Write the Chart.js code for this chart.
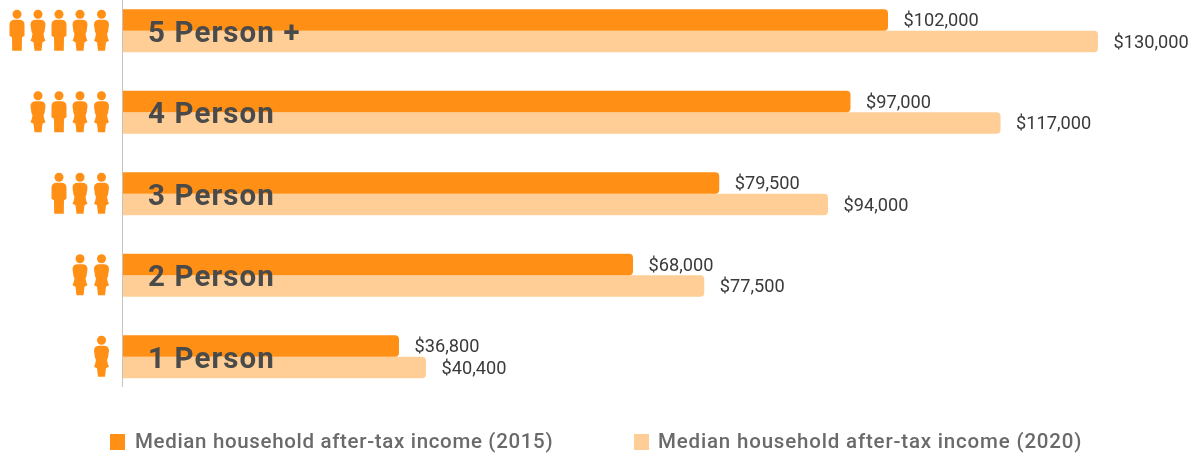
<!DOCTYPE html>
<html><head><meta charset="utf-8">
<style>html,body{margin:0;padding:0;background:#fff;overflow:hidden;width:1195px;height:457px}
#w{position:absolute;left:0;top:-10px;width:1195px;height:480px}</style>
<script src="https://cdn.jsdelivr.net/npm/chart.js@4"></script></head>
<body><div id="w"><canvas id="c"></canvas></div>
<script>
const categories=["5 Person +","4 Person","3 Person","2 Person","1 Person"];
const peopleCounts=[5,4,3,2,1];
const income2015=[102000,97000,79500,68000,36800];
const income2020=[130000,117000,94000,77500,40400];
const labels2015="Median household after-tax income (2015)";
const labels2020="Median household after-tax income (2020)";
const ORANGE="#FF9015",PEACH="#FECE96";
const FONT='Roboto, "Open Sans", sans-serif';

const valueLabels={id:'valueLabels',afterDatasetsDraw(ch){
  const c=ch.ctx;c.save();c.font='400 18.2px '+FONT;c.fillStyle='#3a3a3a';c.textBaseline='middle';c.textAlign='left';
  ch.data.datasets.forEach((d,i)=>ch.getDatasetMeta(i).data.forEach((b,j)=>{
    c.fillText('$'+d.data[j].toLocaleString('en-US'),b.x+15.5,b.y+1.5);
  }));
  // category names sit over the bars
  c.font='700 29.5px '+FONT;c.fillStyle='#4a4a4a';c.letterSpacing='1.1px';
  const ys=ch.scales.y;
  ch.data.labels.forEach((t,i)=>c.fillText(t,148,ys.getPixelForValue(i)+3.5));
  c.restore();
}};
function person(c,x,y,skirt){ // y = row centre
  c.beginPath();c.arc(x,y-16.5,4.5,0,Math.PI*2);c.fill();
  c.beginPath();
  const side=s=>{ // one side of the body, top to bottom, mirrored by s
    c.quadraticCurveTo(x+s*7.5,y-10.5,x+s*7.5,y-6);
    if(skirt){
      c.lineTo(x+s*6.5,y+1);c.lineTo(x+s*5.5,y+3);
      c.quadraticCurveTo(x+s*6,y+7,x+s*7.5,y+10);
      c.lineTo(x+s*4.5,y+11.5);c.lineTo(x+s*3.5,y+20);
    }else{
      c.lineTo(x+s*7.5,y+5);c.lineTo(x+s*5,y+6.5);c.lineTo(x+s*4.8,y+20);
    }
  };
  c.moveTo(x,y-11);
  c.lineTo(x+3,y-11);side(1);
  c.lineTo(x-(skirt?3.5:4.8),y+20);
  // left side, bottom to top
  if(skirt){c.lineTo(x-4.5,y+11.5);c.lineTo(x-7.5,y+10);c.quadraticCurveTo(x-6,y+7,x-5.5,y+3);c.lineTo(x-6.5,y+1);}
  else{c.lineTo(x-5,y+6.5);c.lineTo(x-7.5,y+5);}
  c.lineTo(x-7.5,y-6);c.quadraticCurveTo(x-7.5,y-10.5,x-3,y-11);
  c.closePath();c.fill();
}
const decorations={id:'decorations',afterDraw(ch){
  const c=ch.ctx,ys=ch.scales.y,xs=ch.scales.x;c.save();
  // people icons
  c.fillStyle=ORANGE;
  const slots=[101.5,80,59,38,17],skirts=[true,true,false,true,false];
  peopleCounts.forEach((n,i)=>{for(let k=0;k<n;k++)person(c,slots[k],ys.getPixelForValue(i),skirts[k]);});
  // axis line
  c.strokeStyle='#c9c2ba';c.lineWidth=1;c.beginPath();
  const ax=Math.round(xs.getPixelForValue(0))-0.5;
  c.moveTo(ax,0);c.lineTo(ax,397);c.stroke();
  // legend
  c.font='500 20.5px '+FONT;c.textBaseline='middle';c.textAlign='left';
  [[110,135,'0.67px'],[634,658,'0.82px']].forEach(([bx,tx,sp],i)=>{
    c.letterSpacing=sp;
    c.fillStyle=ch.data.datasets[i].backgroundColor;c.fillRect(bx,444,15,16);
    c.fillStyle='#6a6a6a';c.fillText(ch.data.datasets[i].label,tx,453);
  });
  c.restore();
}};
new Chart(document.getElementById('c'),{
  type:'bar',
  data:{labels:categories,datasets:[
    {label:labels2015,data:income2015,backgroundColor:ORANGE},
    {label:labels2020,data:income2020,backgroundColor:PEACH}]},
  plugins:[valueLabels,decorations],
  options:{
    indexAxis:'y',responsive:true,maintainAspectRatio:false,animation:false,
    layout:{padding:{left:123,right:97,top:0,bottom:72.5}},
    datasets:{bar:{categoryPercentage:0.53,barPercentage:1,borderRadius:4,borderSkipped:'start'}},
    plugins:{legend:{display:false},tooltip:{enabled:false}},
    scales:{
      x:{display:false,min:0,max:130000},
      y:{display:false,grid:{display:false}}
    }
  }
});
</script></body></html>
